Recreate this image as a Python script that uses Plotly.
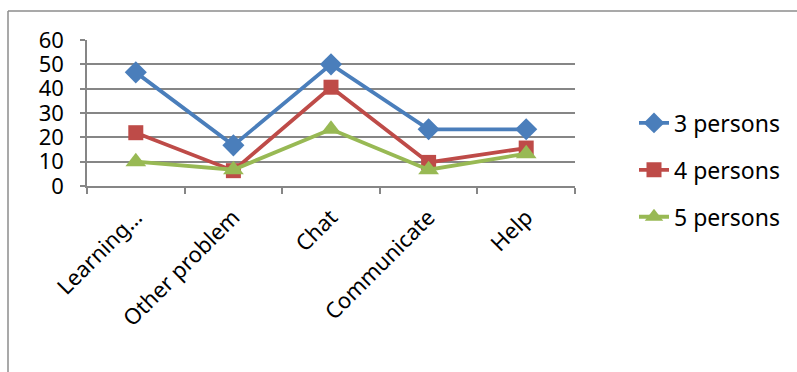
import plotly.graph_objects as go

categories = ["Learning…", "Other problem", "Chat", "Communicate", "Help"]
series_names = ["3 persons", "4 persons", "5 persons"]
p3 = [46.7, 16.7, 50.0, 23.3, 23.3]
p4 = [21.9, 6.3, 40.6, 9.7, 15.6]
p5 = [10.0, 6.7, 23.3, 6.7, 13.3]
y_ticks = [0, 10, 20, 30, 40, 50, 60]

colors = ["#4A7EBB", "#BE4B48", "#98B954"]
symbols = ["diamond", "square", "triangle-up"]
sizes = [17, 15, 18]
values = [p3, p4, p5]

FONT = "Noto Sans"
W, H = 797, 372
L, R, T, B = 87, 575, 40, 186

fig = go.Figure()
for i, (name, vals) in enumerate(zip(series_names, values)):
    fig.add_trace(go.Scatter(
        x=categories, y=vals, name=name, mode="lines+markers",
        line=dict(color=colors[i], width=3.8),
        marker=dict(symbol=symbols[i], size=sizes[i], color=colors[i]),
        legendgroup=name,
    ))

def px_x(px):
    return (px - L) / (R - L)

def px_y(py):
    return (B - py) / (B - T)

fig.update_layout(
    width=W, height=H,
    margin=dict(l=L, r=W - R, t=T, b=H - B, pad=0),
    paper_bgcolor="white", plot_bgcolor="white",
    font=dict(family=FONT, size=22, color="black"),
    showlegend=True,
    legend=dict(x=px_x(634), y=px_y(170), xanchor="left", yanchor="middle",
                font=dict(size=23, family=FONT), tracegroupgap=14,
                bgcolor="rgba(0,0,0,0)"),
    shapes=[
        dict(type="line", xref="paper", yref="paper",
             x0=px_x(8), x1=px_x(800), y0=px_y(11), y1=px_y(11),
             line=dict(color="#8C8C8C", width=1.5)),
        dict(type="line", xref="paper", yref="paper",
             x0=px_x(8), x1=px_x(8), y0=px_y(11), y1=px_y(380),
             line=dict(color="#8C8C8C", width=1.5)),
    ],
)
fig.update_xaxes(
    type="category", range=[-0.5, 4.5], tickangle=-45,
    showline=True, linecolor="#868686", linewidth=1.5,
    ticks="outside", ticklen=6, tickcolor="#868686", tickwidth=1.5,
    tickson="boundaries", showgrid=False,
    tickfont=dict(size=22, family=FONT), ticklabelstandoff=8,
)
fig.update_yaxes(
    range=[0, 60], tickvals=y_ticks, ticktext=[str(v) for v in y_ticks],
    showline=True, linecolor="#868686", linewidth=1.5,
    ticks="outside", ticklen=5, tickcolor="#868686", tickwidth=1.5,
    showgrid=True, gridcolor="#868686", gridwidth=1.5, zeroline=False,
    tickfont=dict(size=22, family=FONT), ticklabelstandoff=12,
)

fig.write_html("out.html")
